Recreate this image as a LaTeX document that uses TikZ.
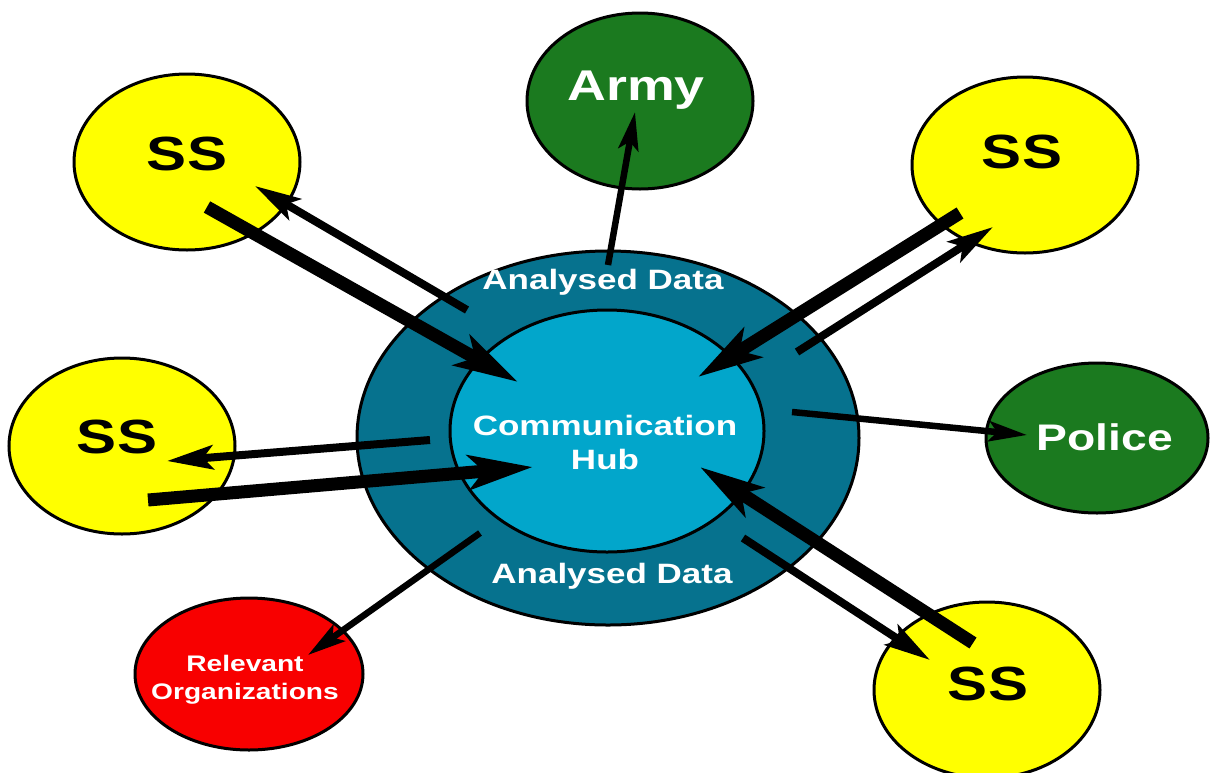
\documentclass[tikz,border=0pt]{standalone}
\usepackage{fontspec}
\newfontfamily\widesans{Liberation Sans}[FakeStretch=1.25]
\usetikzlibrary{arrows.meta,shapes.geometric}

\definecolor{ssyellow}{HTML}{FFFF00}
\definecolor{forcegreen}{HTML}{1B7A1F}
\definecolor{orgred}{HTML}{F80000}
\definecolor{hubteal}{HTML}{06728E}
\definecolor{hubcyan}{HTML}{02A6CB}

\tikzset{
  blob/.style={ellipse, draw=black, line width=3pt, inner sep=0pt,
               minimum width=226pt, minimum height=176pt},
  ssblob/.style={blob, fill=ssyellow},
  greenblob/.style={blob, fill=forcegreen},
  redblob/.style={blob, fill=orgred, minimum width=228pt, minimum height=152pt},
  lbl/.style={inner sep=0pt, align=center},
  sslbl/.style={lbl, anchor=base, text=black,
                font=\widesans\bfseries\fontsize{48}{48}\selectfont},
  whitelbl/.style={lbl, text=white},
  bigarrow/.style={line width=13pt, -{Stealth[length=64pt,width=34pt,inset=15pt]}},
  midarrow/.style={line width=8pt, -{Stealth[length=46pt,width=24pt,inset=10pt]}},
  smallarrow/.style={line width=6.5pt, -{Stealth[length=38pt,width=20pt,inset=8pt]}},
}

\begin{document}
\begin{tikzpicture}[x=1pt, y=-1pt]
\useasboundingbox (0,0) rectangle (1213,772);

% central hub: outer ring and inner core
\node[blob, fill=hubteal, minimum width=502pt, minimum height=374pt] (ring) at (608,438) {};
\node[blob, fill=hubcyan, minimum width=314pt, minimum height=242pt] (core) at (607,431) {};

% surrounding stations
\node[ssblob] (ssA) at (187,162) {};
\node[ssblob] (ssB) at (1025,165) {};
\node[ssblob] (ssC) at (122,446) {};
\node[ssblob] (ssD) at (987,690) {};
\node[greenblob] (army) at (640,101) {};
\node[greenblob, minimum width=222pt, minimum height=150pt] (police) at (1097,438) {};
\node[redblob] (orgs) at (249,674) {};

% arrow end points
\coordinate (ssAout) at (207,207);  \coordinate (hubAin) at (518,382);
\coordinate (hubAout) at (467,310); \coordinate (ssAin) at (255,186);
\coordinate (ssBout) at (960,213);  \coordinate (hubBin) at (698,377);
\coordinate (hubBout) at (797,352); \coordinate (ssBin) at (993,227);
\coordinate (hubCout) at (430,440); \coordinate (ssCin) at (167,461);
\coordinate (ssCout) at (148,500);  \coordinate (hubCin) at (533,467);
\coordinate (ssDout) at (973,643);  \coordinate (hubDin) at (700,467);
\coordinate (hubDout) at (743,538); \coordinate (ssDin) at (930,660);
\coordinate (hubOrgs) at (480,533); \coordinate (orgsIn) at (308,655);
\coordinate (hubPolice) at (792,412); \coordinate (policeIn) at (1027,435);
\coordinate (hubArmy) at (608,265); \coordinate (armyIn) at (635,112);

% data flows
\draw[bigarrow] (ssAout) -- (hubAin);
\draw[midarrow] (hubAout) -- (ssAin);
\draw[bigarrow] (ssBout) -- (hubBin);
\draw[midarrow] (hubBout) -- (ssBin);
\draw[midarrow] (hubCout) -- (ssCin);
\draw[bigarrow] (ssCout) -- (hubCin);
\draw[bigarrow] (ssDout) -- (hubDin);
\draw[midarrow] (hubDout) -- (ssDin);
\draw[smallarrow] (hubOrgs) -- (orgsIn);
\draw[smallarrow] (hubPolice) -- (policeIn);
\draw[smallarrow] (hubArmy) -- (armyIn);

% labels
\node[sslbl] (ssAt) at (187,170) {SS};
\node[sslbl] (ssBt) at (1022,168) {SS};
\node[sslbl] (ssCt) at (117,453) {SS};
\node[sslbl] (ssDt) at (988,700) {SS};
\node[whitelbl, anchor=base, font=\widesans\bfseries\fontsize{43}{43}\selectfont] (armyt) at (636,100) {Army};
\node[whitelbl, anchor=base, font=\widesans\bfseries\fontsize{37}{37}\selectfont] (policet) at (1105,450) {Police};
\node[whitelbl, font=\widesans\bfseries\fontsize{22.5}{28}\selectfont] (orgst) at (245,680) {Relevant\\Organizations};
\node[whitelbl, font=\widesans\bfseries\fontsize{28}{34}\selectfont] (coret) at (605,442) {Communication\\Hub};
\node[whitelbl, anchor=base, font=\widesans\bfseries\fontsize{28}{28}\selectfont] (ringtop) at (603,289) {Analysed Data};
\node[whitelbl, anchor=base, font=\widesans\bfseries\fontsize{28}{28}\selectfont] (ringbot) at (612,583) {Analysed Data};
\end{tikzpicture}
\end{document}
